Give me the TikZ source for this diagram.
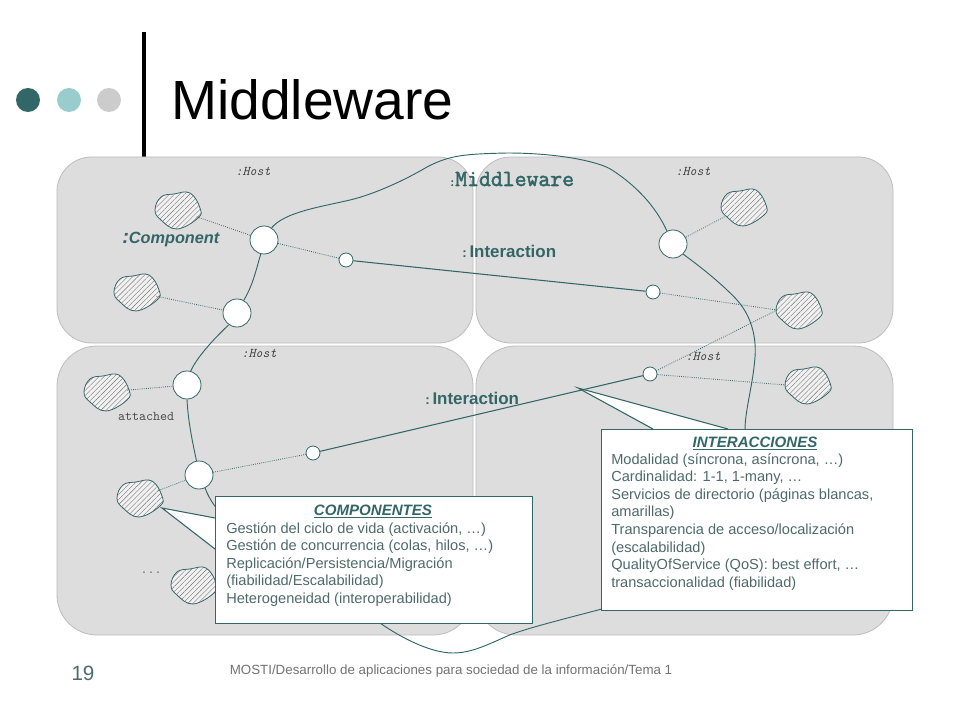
\documentclass[tikz,border=0pt]{standalone}
\usepackage{fontspec}
\setmainfont{Liberation Sans}
\newfontfamily\monoheavy[FakeBold=2.2]{Latin Modern Mono}
\usepackage{tikz}
\usetikzlibrary{patterns.meta}
\definecolor{tealdark}{HTML}{336666}
\definecolor{teallight}{HTML}{99CCCC}
\definecolor{greydot}{HTML}{CCCCCC}
\definecolor{hostgrey}{HTML}{DDDDDD}
\definecolor{hostline}{HTML}{BDBDBD}
\definecolor{notetext}{HTML}{4F6A6A}
\tikzset{
  hostbox/.style={fill=hostgrey,draw=hostline,line width=0.6pt},
  compdot/.style={circle,fill=white,draw=tealdark,line width=0.6pt,minimum size=21pt,inner sep=0pt},
  portdot/.style={circle,fill=white,draw=tealdark,line width=0.6pt,minimum size=10.5pt,inner sep=0pt},
  blobspot/.style={circle,minimum size=31pt,inner sep=0pt},
  bus/.style={draw=tealdark,line width=0.7pt},
  wire/.style={draw=tealdark,line width=0.8pt},
  attach/.style={draw=tealdark,line width=0.6pt,densely dotted},
  notebox/.style={rectangle,fill=white,draw=tealdark,line width=0.8pt,inner sep=0pt,anchor=north west},
  notetail/.style={fill=white,draw=tealdark,line width=0.8pt,line join=miter},
  notetitle/.style={anchor=base,inner sep=0pt,text=tealdark,font=\fontsize{11.3}{13}\selectfont\bfseries\itshape},
  notebody/.style={anchor=north west,inner sep=0pt,align=left,text=notetext,font=\fontsize{10.95}{13.2}\selectfont},
  hostlabel/.style={anchor=base,inner sep=0pt,text=black!75,font=\fontsize{10}{12}\selectfont\ttfamily\itshape},
  rolelabel/.style={anchor=base west,inner sep=0pt,text=tealdark,font=\fontsize{12.7}{15}\selectfont\bfseries},
  blob/.pic={
    \draw[draw=tealdark,line width=0.6pt,fill=hostgrey!40!white,
      postaction={pattern={Lines[angle=45,distance=2.7pt,line width=0.3pt]},pattern color=black!55}]
      plot[smooth cycle,tension=0.7] coordinates {(-22,0) (-16,-13) (-3,-16) (13,-17) (23,-2) (21,8) (0,19) (-16,10)};
  }
}
\begin{document}
\begin{tikzpicture}[x=0.75pt,y=-0.75pt]
\useasboundingbox (0,0) rectangle (960,720);
\fill[white] (0,0) rectangle (960,720);
\fill[tealdark] (28,100) circle [radius=12];
\fill[teallight] (69,100) circle [radius=12];
\fill[greydot] (109,100) circle [radius=12];
\fill[black] (142,32) rectangle (146,157);
\node[anchor=base west,inner sep=0pt,font=\fontsize{41.4}{48}\selectfont] (title) at (171,120) {Middleware};
\draw[hostbox,rounded corners=26pt] (57,157) rectangle (473,343);
\draw[hostbox,rounded corners=26pt] (476,157) rectangle (893,343);
\draw[hostbox,rounded corners=30pt] (57,346) rectangle (473,635);
\draw[hostbox,rounded corners=30pt] (476,346) rectangle (893,635);
\node[hostlabel] (hostA) at (253,176) {:Host};
\node[hostlabel] (hostB) at (693,176) {:Host};
\node[hostlabel] (hostC) at (259,357) {:Host};
\node[hostlabel] (hostD) at (703,360) {:Host};
\pic at (177,210) {blob};
\pic at (136,292) {blob};
\pic at (743,207) {blob};
\pic at (798,310) {blob};
\pic at (807,385) {blob};
\pic at (106,392) {blob};
\pic at (139,498) {blob};
\pic at (193,585) {blob};
\node[blobspot] (blobA) at (177,210) {};
\node[blobspot] (blobB) at (136,292) {};
\node[blobspot] (blobC) at (743,207) {};
\node[blobspot] (blobD) at (798,310) {};
\node[blobspot] (blobE) at (807,385) {};
\node[blobspot] (blobF) at (106,392) {};
\node[blobspot] (blobG) at (139,498) {};
\node[compdot] (compA) at (264,240) {};
\node[compdot] (compB) at (237,313) {};
\node[compdot] (compC) at (187,385) {};
\node[compdot] (compD) at (199,475) {};
\node[compdot] (compE) at (673,244) {};
\node[portdot] (portA) at (346,260) {};
\node[portdot] (portB) at (653,292) {};
\node[portdot] (portC) at (650,374) {};
\node[portdot] (portD) at (313,453) {};
\draw[attach] (blobA) -- (compA);
\draw[attach] (blobB) -- (compB);
\draw[attach] (blobC) -- (compE);
\draw[attach] (blobD.west) -- (portB);
\draw[attach] (blobD.west) -- (portC);
\draw[attach] (blobE.west) -- (portC);
\draw[attach] (blobF) -- (compC);
\draw[attach] (blobG) -- (compD);
\draw[attach] (compA) -- (portA);
\draw[attach] (compD) -- (portD);
\draw[wire] (portA) -- (portB);
\draw[wire] (portD) -- (portC);
\draw[bus] (compA.-103) .. controls (256,270) and (253,285) .. (compB.62);
\draw[bus] (compB.-125) .. controls (218,335) and (198,355) .. (compC.75);
\draw[bus] (compC.-90) .. controls (188,420) and (192,440) .. (compD.100);
\draw[bus] (compA.58) .. controls (285,212) and (320,207) .. (350,200) .. controls (375,194) and (405,180) .. (427,167) .. controls (450,155) and (465,154) .. (507,153) .. controls (560,153) and (600,162) .. (612,170) .. controls (635,185) and (655,205) .. (compE.115);
\draw[bus] (compE.-45) .. controls (705,270) and (725,287) .. (737,300) .. controls (755,320) and (756,345) .. (755,357) .. controls (753,385) and (745,410) .. (745,430) .. controls (745,520) and (640,600) .. (598,610) .. controls (560,620) and (520,630) .. (505,637) .. controls (485,646) and (470,653) .. (453,653) .. controls (430,653) and (400,637) .. (380,623) .. controls (300,570) and (222,535) .. (compD.-65);
\node[anchor=base east,inner sep=0pt,text=tealdark,font=\fontsize{10}{12}\selectfont\monoheavy] (colonM) at (456,186) {:};
\node[anchor=base west,inner sep=0pt,text=tealdark,font=\fontsize{17.3}{20}\selectfont\monoheavy] (labelM) at (455,186) {Middleware};
\node[anchor=base west,inner sep=0pt,text=tealdark,font=\fontsize{12.2}{15}\selectfont\bfseries\itshape] (labelC) at (122,244) {{\fontsize{15}{15}\selectfont:}Component};
\node[rolelabel] (labelA) at (462,258) {{\fontsize{10}{10}\selectfont:}\,Interaction};
\node[rolelabel] (labelB) at (425,404) {{\fontsize{10}{10}\selectfont:}\,Interaction};
\node[anchor=base,inner sep=0pt,text=black!70,font=\fontsize{10}{12}\selectfont\ttfamily] (attached) at (146,420) {attached};
\node[anchor=base,inner sep=0pt,text=black!60,font=\fontsize{10}{12}\selectfont\ttfamily] (dots) at (151,573) {...};
\draw[notetail] (215,518) -- (162,508) -- (215,549);
\draw[notetail] (728,429) -- (578,388) -- (653,429);
\node[notebox,minimum width=237.5pt,minimum height=95.5pt] (boxC) at (215,496) {};
\node[notebox,minimum width=233pt,minimum height=136pt] (boxI) at (601,429) {};
\node[notetitle] (titleC) at (373,515) {\underline{COMPONENTES}};
\node[notetitle] (titleI) at (755,447) {\underline{INTERACCIONES}};
\node[notebody] (bodyC) at (226,522) {Gestión del ciclo de vida (activación, …)\\Gestión de concurrencia (colas, hilos, …)\\Replicación/Persistencia/Migración\\(fiabilidad/Escalabilidad)\\Heterogeneidad (interoperabilidad)};
\node[notebody] (bodyI) at (611,453) {Modalidad (síncrona, asíncrona, …)\\Cardinalidad: 1-1, 1-many, …\\Servicios de directorio (páginas blancas,\\amarillas)\\Transparencia de acceso/localización\\(escalabilidad)\\QualityOfService (QoS): best effort, …\\transaccionalidad (fiabilidad)};
\node[anchor=base,inner sep=0pt,text=notetext,font=\fontsize{15.5}{18}\selectfont] (pageno) at (83,680) {19};
\node[anchor=base,inner sep=0pt,text=black!55,font=\fontsize{10}{12}\selectfont] (footer) at (451,674) {MOSTI/Desarrollo de aplicaciones para sociedad de la información/Tema 1};
\end{tikzpicture}
\end{document}
